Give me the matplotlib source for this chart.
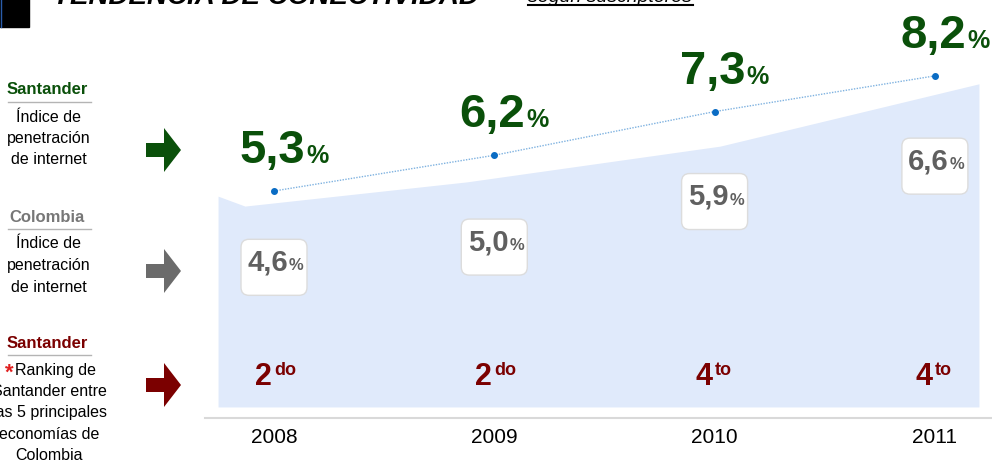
import matplotlib.pyplot as plt
import numpy as np
from matplotlib.patches import FancyBboxPatch, Rectangle, Polygon

# data
years = ['2008', '2009', '2010', '2011']
santander = [5.3, 6.2, 7.3, 8.2]
santander_lbl = ['5,3', '6,2', '7,3', '8,2']
colombia = [4.6, 5.0, 5.9, 6.6]
colombia_lbl = ['4,6', '5,0', '5,9', '6,6']
rank_num = ['2', '2', '4', '4']
rank_suf = ['do', 'do', 'to', 'to']

# light blue band behind the chart (santander units)
band_x = [-0.254, -0.132, 0.876, 2.025, 3.2]
band_top = [5.17, 4.92, 5.53, 6.43, 8.0]
band_bottom = -0.14

green = '#0a500a'
grey = '#606060'
red = '#7b0000'
sans = ['Liberation Sans', 'DejaVu Sans']

fig = plt.figure(figsize=(9.92, 4.70), dpi=100)
ax = fig.add_axes([205/992, 52/470, 787/992, 398/470])
ax2 = ax.twinx()
x = np.arange(len(years))

ax.fill_between(band_x, band_bottom, band_top, color='#e0eafb', lw=0)
ax.plot(x, santander, color='#7fb2e0', ls=(0, (1, 1)), lw=1)
ax.plot(x, santander, 'o', color='#0a6cc4', ms=4)

ax.set_xlim(-0.3132, 3.2592)
ax.set_ylim(-0.418, 9.607)
ax2.set_ylim(1.621, 9.489)
for a in (ax, ax2):
    for s in ['top', 'right', 'left']:
        a.spines[s].set_visible(False)
    a.set_yticks([])
ax2.spines['bottom'].set_visible(False)
ax.spines['bottom'].set_color('#d9d9d9')
ax.spines['bottom'].set_linewidth(1.5)
ax.set_xticks(x)
ax.set_xticklabels(years, family=sans, fontsize=15)
ax.tick_params(axis='x', length=0, pad=7)

# santander labels
for i, v in enumerate(santander):
    ax.annotate(santander_lbl[i], (i, v), xytext=(31, 28), textcoords='offset pixels',
                ha='right', va='baseline', fontsize=34, fontweight='bold', color=green, family=sans)
    ax.annotate('%', (i, v), xytext=(32, 28), textcoords='offset pixels',
                ha='left', va='baseline', fontsize=18, fontweight='bold', color=green, family=sans)

# ranking
trans = ax.get_xaxis_transform()
for i in range(len(years)):
    ax.annotate(rank_num[i], (i, 0.0829), xycoords=trans, xytext=(-11, 0), textcoords='offset pixels',
                ha='center', va='baseline', fontsize=22, fontweight='bold', color=red, family=sans)
    ax.annotate(rank_suf[i], (i, 0.0829), xycoords=trans, xytext=(0, 10), textcoords='offset pixels',
                ha='left', va='baseline', fontsize=13, fontweight='bold', color=red, family=sans)

# overlay in pixel coords
ov = fig.add_axes([0, 0, 1, 1])
ov.set_xlim(0, 992)
ov.set_ylim(470, 0)
ov.axis('off')
inv = ov.transData.inverted()

for i, v in enumerate(colombia):
    cx, cy = inv.transform(ax2.transData.transform((i, v)))
    ov.add_patch(FancyBboxPatch((cx - 33, cy - 28), 66, 56, boxstyle='round,pad=0,rounding_size=8',
                                fc='white', ec='#dcdcdc', lw=1))
    ov.text(cx + 14, cy + 3, colombia_lbl[i], ha='right', va='baseline', fontsize=21,
            fontweight='bold', color=grey, family=sans)
    ov.text(cx + 15, cy + 3, '%', ha='left', va='baseline', fontsize=12,
            fontweight='bold', color=grey, family=sans)

# title (cut at the top)
ov.add_patch(Rectangle((0, -5), 29, 32, color='black'))
ov.plot([0.5, 0.5], [0, 27], color='#2a5caa', lw=1)
ov.text(53, 4, 'TENDENCIA DE CONECTIVIDAD', ha='left', va='baseline', fontsize=20,
        fontweight='bold', style='italic', family=sans)
ov.text(528, 2, 'según suscriptores', ha='left', va='baseline', fontsize=14, style='italic', family=sans)
ov.plot([528, 693], [5, 5], color='black', lw=1.5)

# left legend
def arrow(cx, cy, color):
    pts = [(cx - 17, cy - 7), (cx + 1, cy - 7), (cx + 1, cy - 22), (cx + 18, cy),
           (cx + 1, cy + 22), (cx + 1, cy + 7), (cx - 17, cy + 7)]
    ov.add_patch(Polygon(pts, closed=True, color=color, lw=0))

blocks = [
    ('Santander', green, 90, ['Índice de', 'penetración', 'de internet'], 150, green),
    ('Colombia', '#777777', 217, ['Índice de', 'penetración', 'de internet'], 271, '#6b6b6b'),
    ('Santander', red, 343, ['Ranking de', 'Santander entre', 'las 5 principales', 'economías de', 'Colombia'], 385, red),
]
for head, col, y0, lines, ay, acol in blocks:
    ov.text(47, y0, head, ha='center', va='center', fontsize=12, fontweight='bold', color=col, family=sans)
    ov.plot([8, 91], [y0 + 12, y0 + 12], color='#b4b4b4', lw=1)
    for k, t in enumerate(lines):
        if t == 'Ranking de':
            ov.text(15, y0 + 27 + k * 21.5, t, ha='left', va='center', fontsize=11.5, color='black', family=sans)
            ov.text(14, y0 + 30, '*', ha='right', va='center', fontsize=16, fontweight='bold',
                    color='#e02020', family=sans)
        else:
            ov.text(49, y0 + 27 + k * 21.5, t, ha='center', va='center', fontsize=11.5, color='black', family=sans)
    arrow(163, ay, acol)

fig.savefig('out.png', dpi=100)
